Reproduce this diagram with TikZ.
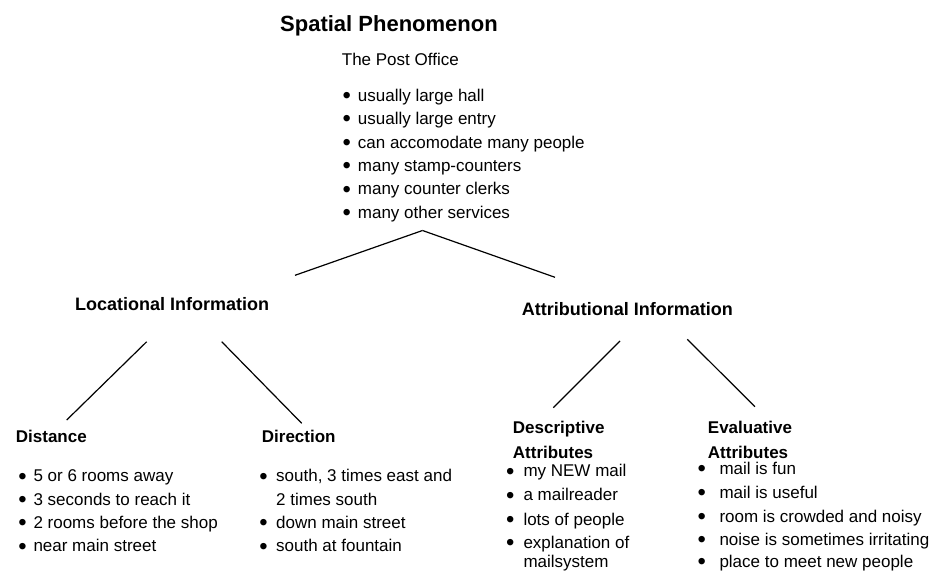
\documentclass[tikz,border=0pt]{standalone}
\usepackage{fontspec}
\setmainfont{Liberation Sans}

\newcommand{\bul}[1]{\makebox[#1][l]{\raisebox{-2.4pt}{\scalebox{1.4}{\textbullet}}}}

\begin{document}
\begin{tikzpicture}[x=1pt,y=-1pt,
        title/.style={font=\fontsize{22}{26}\selectfont\bfseries},
        head/.style={font=\fontsize{18}{22}\selectfont\bfseries},
        subhead/.style={font=\fontsize{17}{21}\selectfont\bfseries},
        txt/.style={font=\fontsize{17}{21}\selectfont}]
        \useasboundingbox (0,0) rectangle (933,573);
        \begin{scope}[every node/.style={anchor=base west,inner sep=0pt}]
            \node[title] (spatial) at (280,31.5) {Spatial Phenomenon};
            \node[txt] (post) at (341.7,65) {The Post Office};
            \node[txt] (post1) at (342.5,101) {\bul{15.2pt}usually large hall};
            \node[txt] (post2) at (342.5,124.5) {\bul{15.2pt}usually large entry};
            \node[txt] (post3) at (342.5,148) {\bul{15.2pt}can accomodate many people};
            \node[txt] (post4) at (342.5,171.4) {\bul{15.2pt}many stamp-counters};
            \node[txt] (post5) at (342.5,194.8) {\bul{15.2pt}many counter clerks};
            \node[txt] (post6) at (342.5,218.3) {\bul{15.2pt}many other services};

            \node[head] (loc) at (75,310.7) {Locational Information};
            \node[head] (attr) at (521.7,315) {Attributional Information};

            \node[subhead] (dist) at (15.7,442.7) {Distance};
            \node[txt] (dist1) at (18.1,481.7) {\bul{15.2pt}5 or 6 rooms away};
            \node[txt] (dist2) at (18.1,505) {\bul{15.2pt}3 seconds to reach it};
            \node[txt] (dist3) at (18.1,528.3) {\bul{15.2pt}2 rooms before the shop};
            \node[txt] (dist4) at (18.1,551.7) {\bul{15.2pt}near main street};

            \node[subhead] (dir) at (261.7,442.7) {Direction};
            \node[txt] (dir1) at (259.1,481.7) {\bul{16.9pt}south, 3 times east and};
            \node[txt] (dir1b) at (276,505) {2 times south};
            \node[txt] (dir2) at (259.1,528.3) {\bul{16.9pt}down main street};
            \node[txt] (dir3) at (259.1,551.7) {\bul{16.9pt}south at fountain};

            \node[subhead] (desc) at (512.7,433.3) {Descriptive};
            \node[subhead] (desc0) at (512.7,458.3) {Attributes};
            \node[txt] (desc1) at (505.8,476.7) {\bul{17.5pt}my NEW mail};
            \node[txt] (desc2) at (505.8,500.8) {\bul{17.5pt}a mailreader};
            \node[txt] (desc3) at (505.8,525) {\bul{17.5pt}lots of people};
            \node[txt] (desc4) at (505.8,548.5) {\bul{17.5pt}explanation of};
            \node[txt] (desc4b) at (523.3,567.5) {mailsystem};

            \node[subhead] (eval) at (707.7,433.3) {Evaluative};
            \node[subhead] (eval0) at (707.7,458.3) {Attributes};
            \node[txt] (eval1) at (697.5,474.3) {\bul{21.8pt}mail is fun};
            \node[txt] (eval2) at (697.5,498.3) {\bul{21.8pt}mail is useful};
            \node[txt] (eval3) at (697.5,522) {\bul{21.8pt}room is crowded and noisy};
            \node[txt] (eval4) at (697.5,545.2) {\bul{21.8pt}noise is sometimes irritating};
            \node[txt] (eval5) at (697.5,567) {\bul{21.8pt}place to meet new people};
        \end{scope}

        \coordinate (apex) at (422.5,230.5);
        \coordinate (topL) at (295,275.3);
        \coordinate (topR) at (555,277.3);
        \coordinate (locL) at (146.7,341.7);
        \coordinate (locR) at (221.7,341.7);
        \coordinate (distT) at (66.7,420);
        \coordinate (dirT) at (301.7,423.3);
        \coordinate (attrL) at (620,341);
        \coordinate (attrR) at (687.3,339.3);
        \coordinate (descT) at (553.3,407.7);
        \coordinate (evalT) at (755,406.7);

        \begin{scope}[every edge/.style={draw,line width=1.2pt}]
            \path [-] (apex) edge (topL);
            \path [-] (apex) edge (topR);
            \path [-] (locL) edge (distT);
            \path [-] (locR) edge (dirT);
            \path [-] (attrL) edge (descT);
            \path [-] (attrR) edge (evalT);
        \end{scope}
    \end{tikzpicture}
\end{document}
